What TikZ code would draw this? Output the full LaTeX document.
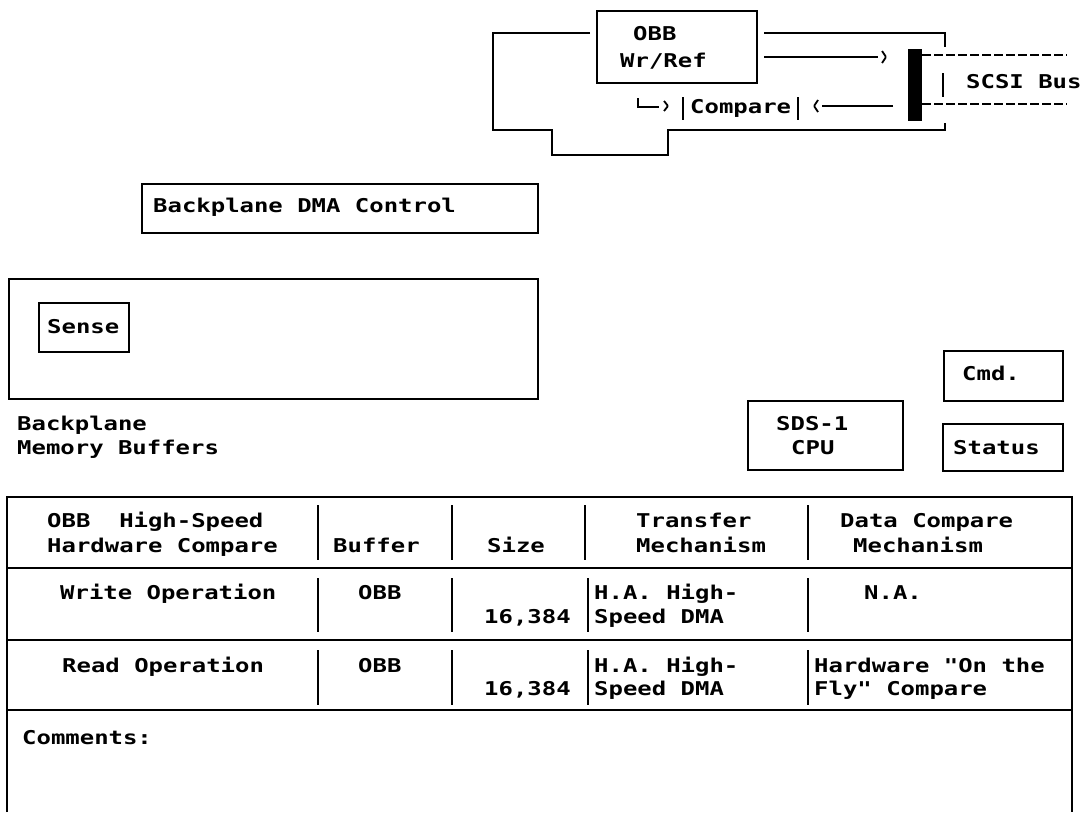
\documentclass[tikz,border=0pt]{standalone}
\usepackage{fontspec}
\newfontfamily\dmono{DejaVu Sans Mono}[FakeStretch=1.26]
\newcommand\tfont{\dmono\bfseries\fontsize{19}{22}\selectfont}
\frenchspacing
\tikzset{
  ln/.style={line width=1.8pt},
  box/.style={draw, line width=1.8pt, inner sep=0pt, anchor=north west},
  txt/.style={font=\tfont, anchor=base west, inner sep=0pt},
  rulesep/.style={line width=2.4pt},
  colsep/.style={line width=1.8pt},
  chev/.style={line width=1.8pt, rounded corners=1pt},
  busline/.style={line width=1.8pt, dash pattern=on 9pt off 3pt},
}
\begin{document}
\begin{tikzpicture}[x=1pt,y=-1pt]
\useasboundingbox (0,0) rectangle (1082,812);
% ---------- OBB block ----------
\node[box, minimum width=160, minimum height=72] (obb) at (596,10) {};
\node[txt] (obbT1) at (633,40) {OBB};
\node[txt] (obbT2) at (620,67) {Wr/Ref};
\coordinate (fA) at (590,33);
\coordinate (fB) at (764,33);
\draw[ln] (fA) -- (493,33) -- (493,130) -- (552,130) -- (552,155) -- (668,155) -- (668,130) -- (945,130) -- (945,123);
\draw[ln] (fB) -- (945,33) -- (945,47);
% SCSI bar
\node[fill=black, minimum width=14, minimum height=72, inner sep=0pt, anchor=north west] (bar) at (908,49) {};
% arrow out
\coordinate (a1s) at (764,57);
\coordinate (a1e) at (878,57);
\draw[ln] (a1s) -- (a1e);
\draw[chev] (882,51) -- (886,57) -- (882,63);
% arrow in to compare
\coordinate (a2s) at (893,106);
\coordinate (a2e) at (822,106);
\draw[ln] (a2s) -- (a2e);
\draw[chev] (818,100) -- (814,106) -- (818,112);
% compare
\node[txt] (cmp) at (690,113) {Compare};
\draw[ln] (683,97) -- (683,120);
\draw[ln] (798,97) -- (798,120);
\draw[ln] (638,98) -- (638,107) -- (659,107);
\draw[chev] (664,101) -- (668,106) -- (664,111);
% bus
\draw[busline] (922,55) -- (1067,55);
\draw[busline] (922,104) -- (1067,104);
\draw[ln] (943,73) -- (943,97);
\node[txt] (scsi) at (966,88) {SCSI Bus};
% ---------- backplane ----------
\node[box, minimum width=396, minimum height=49] (dma) at (141,183) {};
\node[txt] (dmaT) at (153,212) {Backplane DMA Control};
\node[box, minimum width=529, minimum height=120] (buf) at (8,278) {};
\node[box, minimum width=90, minimum height=49] (sense) at (38,302) {};
\node[txt] (senseT) at (47,333) {Sense};
\node[txt] (bpT1) at (17,430) {Backplane};
\node[txt] (bpT2) at (17,454) {Memory Buffers};
% ---------- CPU ----------
\node[box, minimum width=155, minimum height=69] (cpu) at (747,400) {};
\node[txt] (cpuT1) at (776,430) {SDS-1};
\node[txt] (cpuT2) at (791,454) {CPU};
\node[box, minimum width=119, minimum height=50] (cmd) at (943,350) {};
\node[txt] (cmdT) at (962,380) {Cmd.};
\node[box, minimum width=120, minimum height=47] (status) at (942,423) {};
\node[txt] (statusT) at (953,454) {Status};
% ---------- table ----------
\draw[ln] (7,812) -- (7,497) -- (1072,497) -- (1072,812);
\draw[rulesep] (7,568) -- (1072,568);
\draw[rulesep] (7,640) -- (1072,640);
\draw[rulesep] (7,710) -- (1072,710);
\foreach \xx in {318,452,585,808} \draw[colsep] (\xx,505) -- (\xx,560);
\foreach \xx in {318,452,588,808} \draw[colsep] (\xx,578) -- (\xx,632);
\foreach \xx in {318,452,588,808} \draw[colsep] (\xx,650) -- (\xx,705);
\node[txt] (h1a) at (47,527) {OBB~~High-Speed};
\node[txt] (h1b) at (47,552) {Hardware Compare};
\node[txt] (h2) at (333,552) {Buffer};
\node[txt] (h3) at (487,552) {Size};
\node[txt] (h4a) at (636,527) {Transfer};
\node[txt] (h4b) at (636,552) {Mechanism};
\node[txt] (h5a) at (840,527) {Data Compare};
\node[txt] (h5b) at (853,552) {Mechanism};
\node[txt] (r1a) at (60,599) {Write Operation};
\node[txt] (r1b) at (358,599) {OBB};
\node[txt] (r1c) at (484,623) {16,384};
\node[txt] (r1d) at (594,599) {H.A. High-};
\node[txt] (r1e) at (594,623) {Speed DMA};
\node[txt] (r1f) at (864,599) {N.A.};
\node[txt] (r2a) at (62,672) {Read Operation};
\node[txt] (r2b) at (358,672) {OBB};
\node[txt] (r2c) at (484,695) {16,384};
\node[txt] (r2d) at (594,672) {H.A. High-};
\node[txt] (r2e) at (594,695) {Speed DMA};
\node[txt] (r2f) at (814,672) {Hardware "On the};
\node[txt] (r2g) at (814,695) {Fly" Compare};
\node[txt] (com) at (22,744) {Comments:};
\end{tikzpicture}
\end{document}
